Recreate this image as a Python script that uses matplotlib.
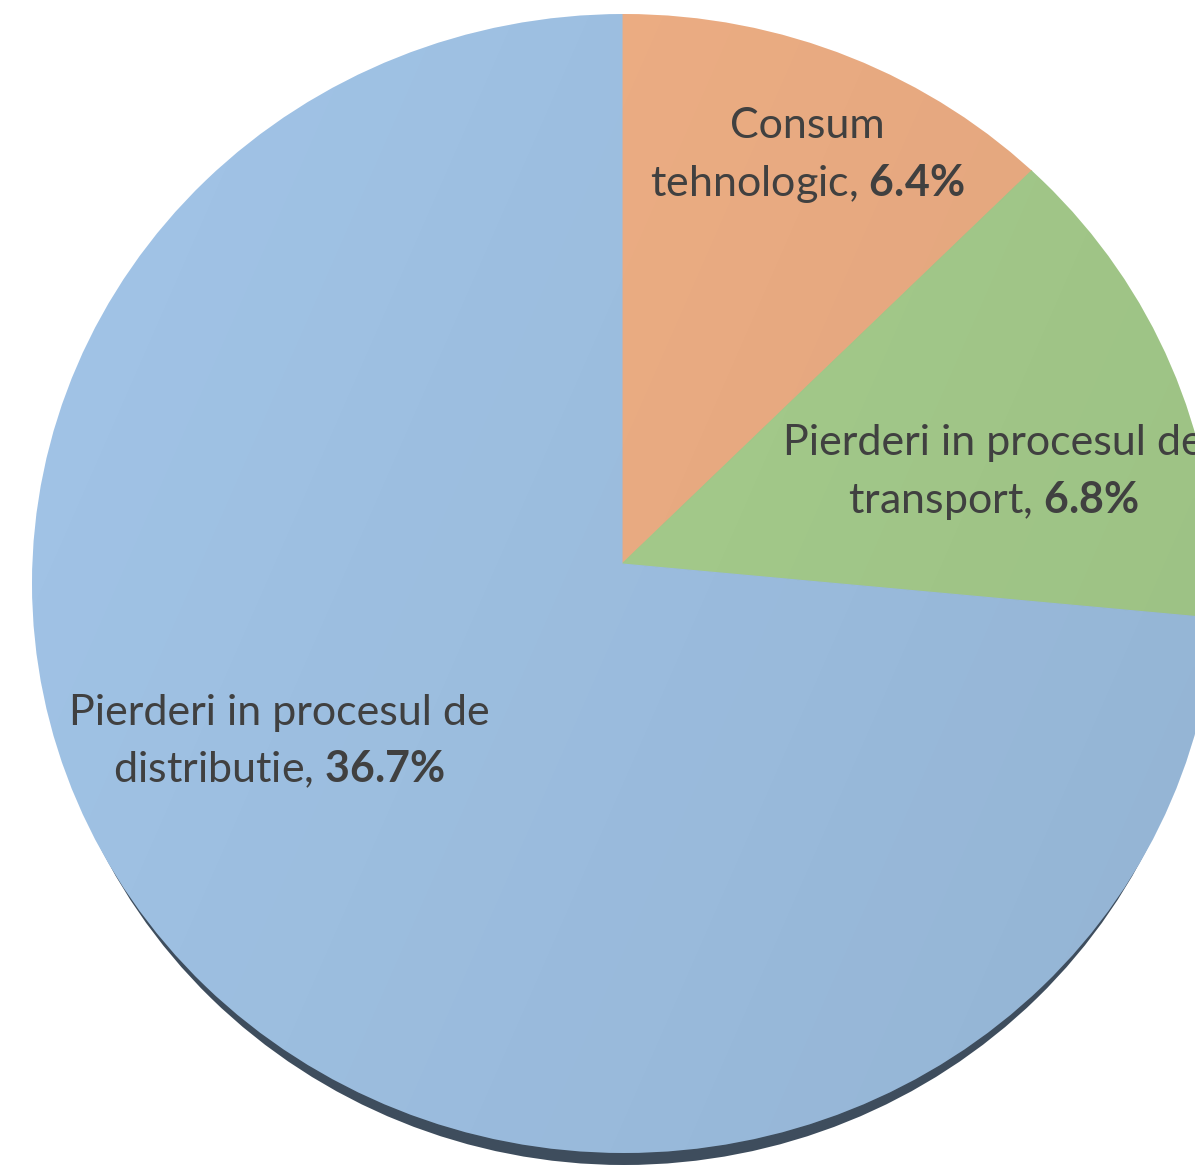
import matplotlib
matplotlib.use("Agg")
import matplotlib.pyplot as plt
import numpy as np
from matplotlib.patches import Ellipse

# ---- data ----
categories = ["Consum\ntehnologic", "Pierderi in procesul de\ntransport",
              "Pierderi in procesul de\ndistributie"]
values = [6.4, 6.8, 36.7]
colors = ["#F3B287", "#AAD290", "#A2C5E8"]

plt.rcParams['mathtext.fontset'] = 'custom'
plt.rcParams['mathtext.rm'] = 'Lato'
plt.rcParams['mathtext.bf'] = 'Lato:bold'

W, H = 1195, 1168
fig = plt.figure(figsize=(W / 100, H / 100), dpi=100)
ax = fig.add_axes([0, 0, 1, 1])

vertex = (622, H - 564)
ell_center = (624, H - 583.5)

wedges, _ = ax.pie(values, colors=colors, startangle=90, counterclock=False,
                   radius=900, center=vertex,
                   wedgeprops=dict(linewidth=0.8))

# shadow (3D edge)
shadow = Ellipse((ell_center[0], ell_center[1] - 12), 1168, 1139,
                 facecolor="#3E4D5D", edgecolor="none", zorder=0)
ax.add_patch(shadow)

clip = Ellipse(ell_center, 1184, 1139, facecolor="none", edgecolor="none")
ax.add_patch(clip)
for w in wedges:
    w.set_clip_on(True)
    w.set_clip_path(clip)
    w.set_edgecolor(w.get_facecolor())
    w.set_zorder(1)

# subtle shading gradient (lighter top-left, darker bottom-right)
gx = np.linspace(0, 1, 300)[None, :]
gy = np.linspace(0, 1, 300)[:, None]
alpha = 0.09 * (0.7 * gx + 0.3 * gy)
shade = np.zeros((300, 300, 4))
shade[..., 3] = alpha
img = ax.imshow(shade, extent=(0, W, 0, H), origin='upper', aspect='auto',
                zorder=2, interpolation='bilinear')
img.set_clip_path(clip)

ax.set_xlim(0, W)
ax.set_ylim(0, H)
ax.set_aspect('auto')
ax.axis('off')

label_pos = [(807, H - 156), (993, H - 473), (279, H - 742)]
for cat, v, (x, y) in zip(categories, values, label_pos):
    txt = cat + ", $\\mathbf{" + f"{v:.1f}" + "\\%}$"
    ax.text(x, y, txt, ha="center", va="center", multialignment="center",
            fontsize=31, family="Lato", color="#404040", zorder=5,
            linespacing=1.48, clip_on=False)

fig.savefig("out.png", dpi=100)
